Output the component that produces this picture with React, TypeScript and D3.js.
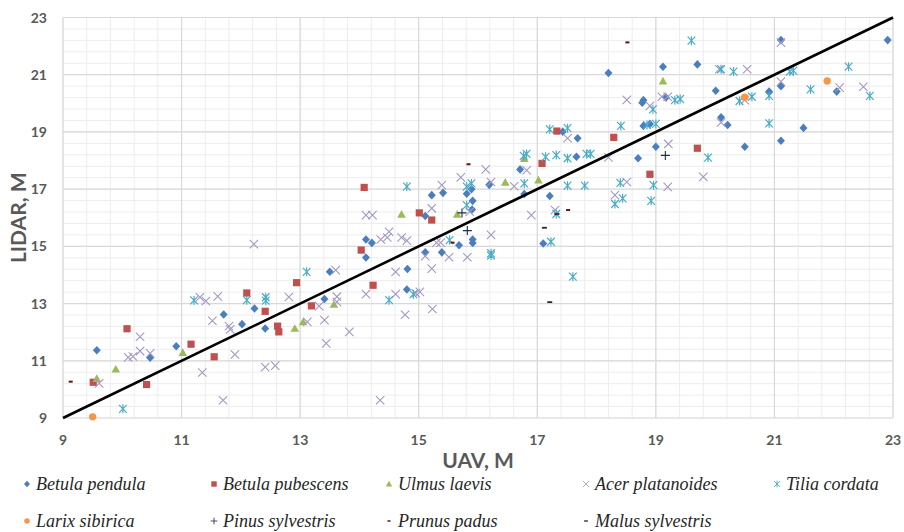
import React from "react";
import * as d3 from "d3";

type P = [number, number];

// [UAV, LIDAR] pairs per species
const betulaPendula: P[] = [
  [9.57, 11.37], [10.47, 11.11], [10.91, 11.51], [11.71, 12.62], [12.02, 12.28], [12.23, 12.83], [12.41, 12.13],
  [13.41, 13.16], [13.5, 14.11], [14.11, 14.61], [14.11, 15.24], [14.21, 15.12], [14.8, 13.49], [14.81, 14.21],
  [15.11, 16.06], [15.22, 16.79], [15.41, 16.87], [15.11, 14.79], [15.39, 14.79], [15.68, 15.04], [15.81, 16.84],
  [15.89, 17.0], [15.91, 16.59], [15.9, 16.29], [15.91, 15.24], [15.91, 15.12], [16.19, 17.15],
  [16.71, 17.69], [16.78, 16.83], [17.21, 16.76], [17.1, 15.1], [17.43, 19.01], [17.68, 18.78], [17.66, 18.13],
  [18.7, 18.08], [18.79, 20.11], [18.77, 20.02], [18.79, 19.21], [18.9, 19.28], [19.0, 18.48],
  [18.2, 21.06], [19.12, 21.28], [19.7, 21.36], [21.11, 22.21], [22.91, 22.21], [19.17, 20.2], [20.01, 20.44],
  [20.91, 20.41], [21.11, 20.6], [22.05, 20.41], [20.1, 19.51], [20.21, 19.24], [21.49, 19.14], [20.5, 18.48],
  [21.11, 18.69],
];
const betulaPubescens: P[] = [
  [9.51, 10.25], [10.08, 12.12], [10.41, 10.17], [11.16, 11.58], [11.55, 11.14], [12.1, 13.37], [12.41, 12.73],
  [12.62, 12.21], [12.64, 12.01], [12.94, 13.73], [13.19, 12.92], [14.08, 17.06], [14.03, 14.87], [14.23, 13.64],
  [15.01, 16.17], [15.22, 15.92], [17.33, 19.03], [17.08, 17.9], [18.29, 18.81], [18.9, 17.52], [19.7, 18.43],
];
const ulmusLaevis: P[] = [
  [9.57, 10.38], [9.89, 10.71], [11.02, 11.29], [12.91, 12.13], [13.05, 12.36], [13.57, 12.97], [14.71, 16.12],
  [15.65, 16.12], [16.46, 17.24], [16.78, 18.07], [17.02, 17.32], [19.12, 20.78],
];
const acerPlatanoides: P[] = [
  [9.61, 10.21], [10.3, 11.84], [10.3, 11.34], [10.1, 11.12], [10.18, 11.15], [10.47, 11.26], [11.31, 13.22],
  [11.41, 13.09], [11.61, 13.25], [11.52, 12.4], [11.8, 12.21], [11.82, 12.1], [11.35, 10.59], [11.9, 11.22],
  [11.7, 9.62], [12.22, 15.08], [12.41, 10.78], [12.58, 10.83], [12.81, 13.23],
  [13.12, 12.36], [13.32, 12.91], [13.41, 12.42], [13.44, 11.61], [13.6, 14.17], [13.62, 13.24], [13.62, 13.06],
  [13.83, 12.01], [14.11, 16.09], [14.22, 16.09], [14.11, 13.33], [14.36, 15.24], [14.47, 15.31], [14.5, 15.51],
  [14.71, 15.31], [14.8, 15.2], [14.61, 14.11], [14.61, 13.33], [14.77, 12.61], [14.95, 13.36], [15.02, 13.41],
  [15.22, 16.33], [15.22, 14.22], [15.23, 12.81], [15.11, 14.66], [15.3, 15.13], [15.37, 15.13], [15.51, 14.62],
  [15.71, 17.41], [15.39, 17.14], [15.82, 14.62], [15.86, 16.21], [16.13, 17.69], [14.35, 9.62],
  [16.22, 17.25], [16.61, 17.1], [16.82, 17.66], [16.9, 16.09], [16.22, 15.4], [17.3, 16.27], [17.51, 18.78],
  [18.2, 18.11], [18.31, 16.79], [18.51, 17.25], [18.9, 19.91], [19.21, 18.58], [19.2, 17.08], [18.51, 20.12],
  [21.11, 22.12], [20.07, 21.19], [20.54, 21.19], [21.11, 20.76], [22.1, 20.55], [22.5, 20.58], [19.1, 20.23],
  [19.2, 20.23], [20.5, 20.11], [20.1, 19.33], [19.8, 17.43],
];
const tiliaCordata: P[] = [
  [10.01, 9.32], [11.21, 13.11], [12.1, 13.12], [12.42, 13.22], [12.42, 13.1], [13.11, 14.11], [14.8, 17.09],
  [14.5, 13.12], [14.91, 13.33], [15.52, 15.22], [15.81, 17.09], [15.89, 17.2], [15.81, 16.44], [16.22, 14.76],
  [16.22, 14.68], [17.21, 19.09], [17.51, 19.13], [16.77, 18.16], [16.82, 18.23], [17.14, 18.13], [17.32, 18.19],
  [17.51, 18.08], [17.83, 18.23], [17.9, 18.23], [16.78, 17.2], [17.51, 17.12], [17.8, 17.12], [17.32, 16.13],
  [17.23, 15.16], [17.6, 13.94], [18.41, 19.21], [18.4, 17.22], [18.44, 16.68], [18.31, 16.48], [18.92, 16.59],
  [18.96, 17.14], [18.95, 19.79], [18.85, 19.24], [19.0, 19.28],
  [19.6, 22.19], [20.1, 21.19], [20.31, 21.11], [21.26, 21.11], [21.32, 21.14], [22.25, 21.28], [19.32, 20.11],
  [19.41, 20.15], [20.41, 20.08], [20.62, 20.23], [20.91, 20.26], [21.61, 20.49], [22.61, 20.26], [20.91, 19.3],
  [19.88, 18.1],
];
const larixSibirica: P[] = [[9.5, 9.04], [20.5, 20.21], [21.89, 20.78]];
const pinusSylvestris: P[] = [[15.73, 16.17], [15.82, 15.55], [19.16, 18.18]];
const prunusPadus: P[] = [[9.13, 10.27], [15.84, 17.87], [15.57, 15.13], [17.52, 16.27], [18.52, 22.13]];
const malusSylvestris: P[] = [[17.12, 15.65], [17.21, 13.05], [17.33, 16.13]];

const xTicks = [9, 11, 13, 15, 17, 19, 21, 23];
const yTicks = [9, 11, 13, 15, 17, 19, 21, 23];
const fitLine: P[] = [[9, 9], [23, 23]];

type MarkerKind = "diamond" | "square" | "triangle" | "x" | "star" | "circle" | "plus" | "dot" | "dash";

const series: { name: string; data: P[]; kind: MarkerKind; color: string }[] = [
  { name: "Betula pendula", data: betulaPendula, kind: "diamond", color: "#4A7EBF" },
  { name: "Betula pubescens", data: betulaPubescens, kind: "square", color: "#C0504D" },
  { name: "Ulmus laevis", data: ulmusLaevis, kind: "triangle", color: "#9BBB59" },
  { name: "Acer platanoides", data: acerPlatanoides, kind: "x", color: "#A497C4" },
  { name: "Tilia cordata", data: tiliaCordata, kind: "star", color: "#4BACC6" },
  { name: "Larix sibirica", data: larixSibirica, kind: "circle", color: "#F79646" },
  { name: "Pinus sylvestris", data: pinusSylvestris, kind: "plus", color: "#1F2D46" },
  { name: "Prunus padus", data: prunusPadus, kind: "dot", color: "#5A1A14" },
  { name: "Malus sylvestris", data: malusSylvestris, kind: "dash", color: "#2A2A2A" },
];

function Marker({ kind, x, y, color, s = 1 }: { kind: MarkerKind; x: number; y: number; color: string; s?: number }) {
  const t = `translate(${x},${y}) scale(${s})`;
  switch (kind) {
    case "diamond":
      return <path transform={t} d="M0,-4.3L4,0L0,4.3L-4,0Z" fill={color} />;
    case "square":
      return <rect transform={t} x={-3.6} y={-3.6} width={7.2} height={7.2} fill={color} />;
    case "triangle":
      return <path transform={t} d="M0,-4.2L4.3,3.4L-4.3,3.4Z" fill={color} />;
    case "circle":
      return <circle transform={t} r={3.7} fill={color} />;
    case "x":
      return <path transform={t} d="M-4.2,-4.2L4.2,4.2M-4.2,4.2L4.2,-4.2" stroke={color} strokeWidth={1.1} fill="none" />;
    case "star":
      return <path transform={t} d="M-3.8,-4L3.8,4M-3.8,4L3.8,-4M0,-4.5L0,4.5" stroke={color} strokeWidth={1.2} fill="none" />;
    case "plus":
      return <path transform={t} d="M-4.5,0L4.5,0M0,-4.5L0,4.5" stroke={color} strokeWidth={1.1} fill="none" />;
    case "dot":
      return <rect transform={t} x={-2} y={-1} width={4} height={2} fill={color} />;
    case "dash":
      return <rect transform={t} x={-2.5} y={-0.9} width={5} height={1.8} fill={color} />;
  }
}

export default function App() {
  const x = d3.scaleLinear().domain([9, 23]).range([63, 893]);
  const y = d3.scaleLinear().domain([9, 23]).range([418, 17.5]);
  const minor = d3.range(0, 36).map((i) => 9 + i * 0.4);
  const line = d3.line<P>().x((d) => x(d[0])).y((d) => y(d[1]));
  const tickFont = "Lato, 'Open Sans', sans-serif";

  const legendCols = [22, 209, 384, 581, 772];
  const legendRows = [484, 521];

  return (
    <svg width={904} height={532} style={{ position: "absolute", left: 0, top: 0, background: "#fff" }}>
      <rect width={904} height={532} fill="#fff" />
      {minor.map((v) => (
        <g key={"m" + v}>
          <line x1={x(v)} x2={x(v)} y1={y(9)} y2={y(23)} stroke="#EDEDED" strokeWidth={1} />
          <line x1={x(9)} x2={x(23)} y1={y(v)} y2={y(v)} stroke="#EDEDED" strokeWidth={1} />
        </g>
      ))}
      {xTicks.map((v) => (
        <line key={"vx" + v} x1={x(v)} x2={x(v)} y1={y(9)} y2={y(23)} stroke="#D9D9D9" strokeWidth={1.2} />
      ))}
      {yTicks.map((v) => (
        <line key={"hy" + v} x1={x(9)} x2={x(23)} y1={y(v)} y2={y(v)} stroke="#D9D9D9" strokeWidth={1.2} />
      ))}
      {xTicks.map((v) => (
        <text key={"tx" + v} x={x(v)} y={445} textAnchor="middle" fontFamily={tickFont} fontWeight={700} fontSize={14} fill="#595959">
          {v}
        </text>
      ))}
      {yTicks.map((v) => (
        <text key={"ty" + v} x={47} y={y(v) + 5} textAnchor="end" fontFamily={tickFont} fontWeight={700} fontSize={14} fill="#595959">
          {v}
        </text>
      ))}
      <text x={(x(9) + x(23)) / 2} y={468} textAnchor="middle" fontFamily={tickFont} fontWeight={700} fontSize={21} fill="#595959">
        UAV, M
      </text>
      <text
        transform={`translate(26,${(y(9) + y(23)) / 2}) rotate(-90)`}
        textAnchor="middle"
        fontFamily={tickFont}
        fontWeight={700}
        fontSize={21}
        fill="#595959"
      >
        LIDAR, M
      </text>
      {series.map((s) => (
        <g key={s.name}>
          {s.data.map((d, i) => (
            <Marker key={i} kind={s.kind} x={x(d[0])} y={y(d[1])} color={s.color} />
          ))}
        </g>
      ))}
      <path d={line(fitLine) || ""} stroke="#000" strokeWidth={2.6} fill="none" />
      {series.map((s, i) => {
        const row = i < 5 ? 0 : 1;
        const col = i < 5 ? i : i - 5;
        const lx = legendCols[col];
        const ly = legendRows[row];
        return (
          <g key={"lg" + s.name}>
            <Marker kind={s.kind} x={lx + 5} y={ly} color={s.color} s={0.75} />
            <text x={lx + 14} y={ly + 5.5} fontFamily="'Liberation Serif', 'Times New Roman', serif" fontStyle="italic" fontSize={18} fill="#262626">
              {s.name}
            </text>
          </g>
        );
      })}
    </svg>
  );
}
